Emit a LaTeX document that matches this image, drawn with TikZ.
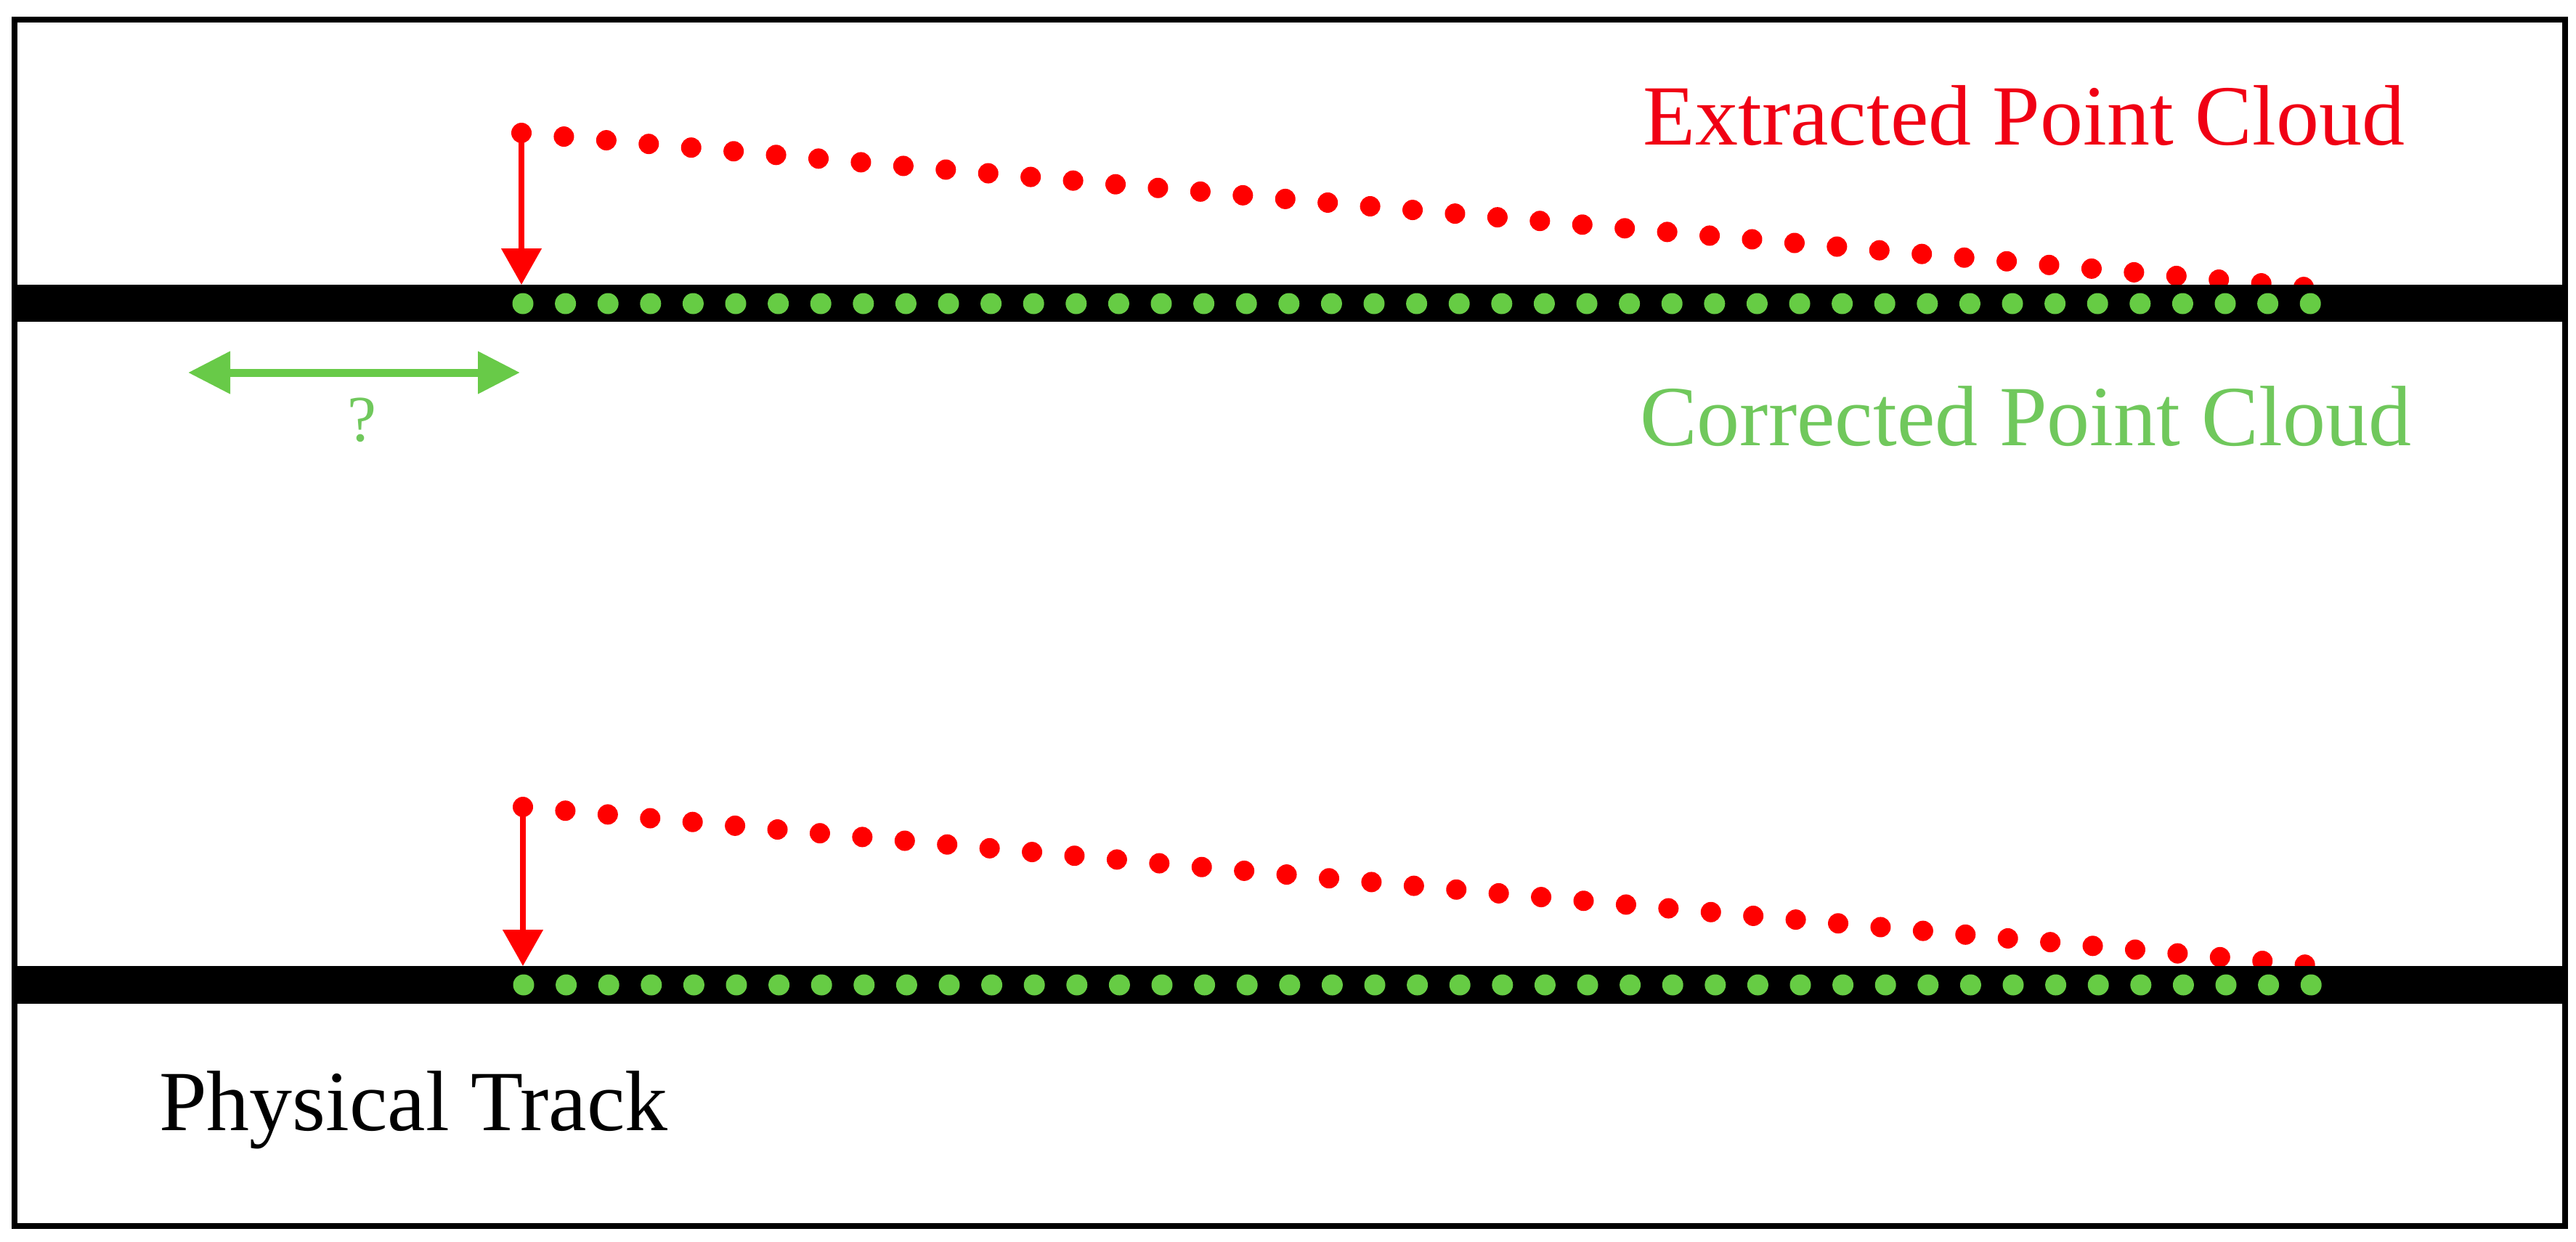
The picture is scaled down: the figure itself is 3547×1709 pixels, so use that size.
\documentclass[tikz,border=0pt]{standalone}
\usepackage{fontspec}
\setmainfont{Liberation Serif}
\usetikzlibrary{arrows.meta}
\definecolor{ptred}{RGB}{255,0,0}
\definecolor{ptgreen}{RGB}{102,204,68}
\definecolor{arrowgreen}{RGB}{104,202,72}
\definecolor{txtgreen}{RGB}{112,200,92}
\definecolor{txtred}{RGB}{240,0,20}
\begin{document}
\begin{tikzpicture}[x=1pt,y=-1pt,
  rdot/.style={circle,fill=ptred,inner sep=0pt,minimum size=28pt},
  gdot/.style={circle,fill=ptgreen,inner sep=0pt,minimum size=29pt},
  band/.style={fill=black},
  frame/.style={draw=black,line width=8pt},
  drop/.style={draw=ptred,line width=8pt,-{Triangle[width=54pt,length=50pt]}},
  gap/.style={draw=arrowgreen,line width=11pt,{Triangle[width=56pt,length=58pt]}-{Triangle[width=56pt,length=58pt]}},
  lbl/.style={inner sep=0pt,anchor=base west,font=\fontsize{118}{140}\selectfont}
]
\useasboundingbox (0,0) rectangle (3547,1709);
\fill[white] (0,0) rectangle (3547,1709);

% extracted (red) point clouds
\foreach \i in {0,...,42}{
  \node[rdot] (tr\i) at ({718+58.43*\i},{183+5.05*\i}) {};
  \node[rdot] (br\i) at ({720+58.42*\i},{1111+5.17*\i}) {};
}

% physical track bands
\fill[band] (24,392) rectangle (3528,443);
\fill[band] (24,1330) rectangle (3528,1382);

% corrected (green) point clouds
\foreach \i in {0,...,42}{
  \node[gdot] (tg\i) at ({720+58.6*\i},418) {};
  \node[gdot] (bg\i) at ({721+58.6*\i},1356) {};
}

% correction arrows
\coordinate (ttip) at (718,392);
\coordinate (btip) at (720,1330);
\draw[drop] (tr0.center) -- (ttip);
\draw[drop] (br0.center) -- (btip);

% unknown offset
\coordinate (gL) at (259,513);
\coordinate (gR) at (716,513);
\draw[gap] (gL) -- (gR);
\node[inner sep=0pt,anchor=base,text=txtgreen,font=\fontsize{90}{100}\selectfont] (q) at (498,607) {?};

% labels
\node[lbl,text=txtred] (ext) at (2262,199) {Extracted Point Cloud};
\node[lbl,text=txtgreen] (cor) at (2258,613) {Corrected Point Cloud};
\node[lbl,text=black] (phys) at (219,1556) {Physical Track};

% frame
\draw[frame] (20,27) rectangle (3532,1688);
\end{tikzpicture}
\end{document}
